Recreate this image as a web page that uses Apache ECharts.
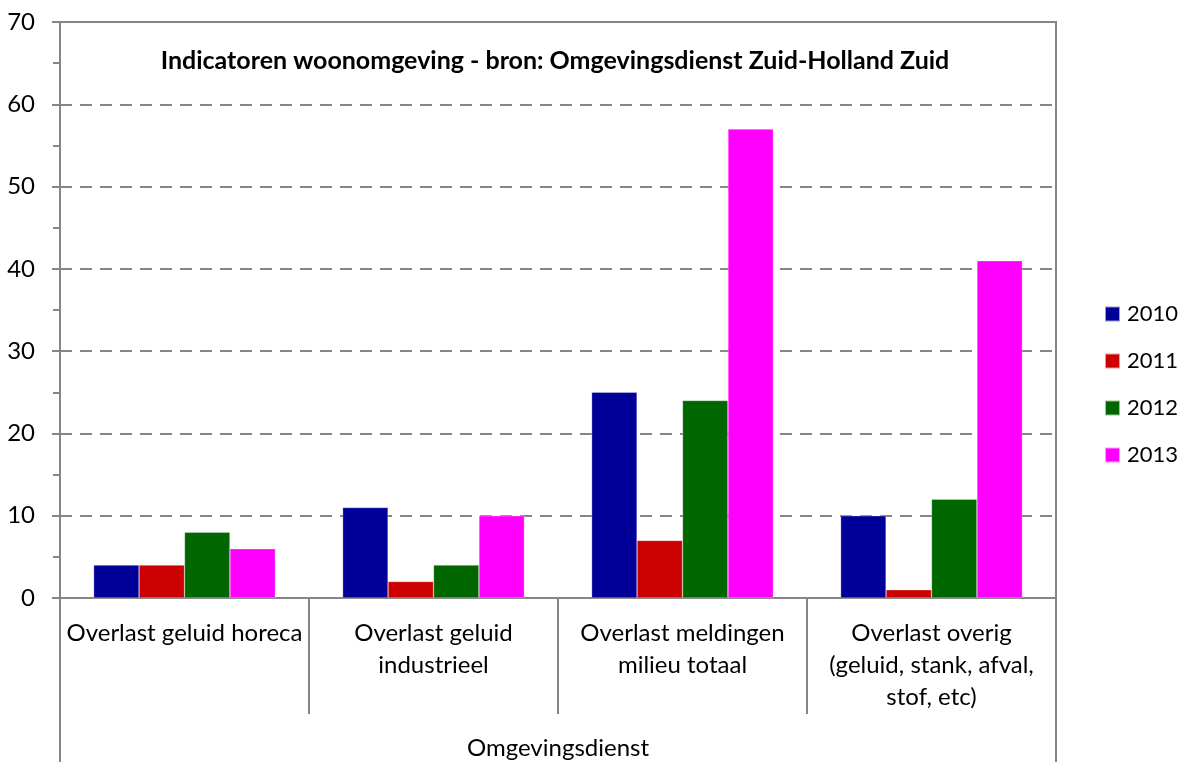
<!DOCTYPE html>
<html>
<head>
<meta charset="utf-8">
<script src="https://cdn.jsdelivr.net/npm/echarts@6/dist/echarts.min.js"></script>
<style>
  html, body { margin: 0; padding: 0; background: #fff; }
  #chart { width: 1178px; height: 762px; }
</style>
</head>
<body>
<div id="chart"></div>
<script>
// data
var categories = [
  'Overlast geluid horeca',
  'Overlast geluid\nindustrieel',
  'Overlast meldingen\nmilieu totaal',
  'Overlast overig\n(geluid, stank, afval,\nstof, etc)'
];
var groupLabel = ['Omgevingsdienst'];
var years = ['2010', '2011', '2012', '2013'];
var v2010 = [4, 11, 25, 10];
var v2011 = [4, 2, 7, 1];
var v2012 = [8, 4, 24, 12];
var v2013 = [6, 10, 57, 41];
var colors = ['#000099', '#CC0000', '#006600', '#FF00FF'];

var font = 'Lato, "Open Sans", sans-serif';
var gray = '#868686';

var myChart = echarts.init(document.getElementById('chart'));

var seriesData = [v2010, v2011, v2012, v2013];
var series = years.map(function (y, i) {
  return {
    name: y,
    type: 'bar',
    data: seriesData[i],
    barGap: '0%',
    barCategoryGap: '27%',
    itemStyle: { color: colors[i], borderColor: 'rgba(255,255,255,0.6)', borderWidth: 0.5 }
  };
});

myChart.setOption({
  animation: false,
  title: {
    text: 'Indicatoren woonomgeving - bron: Omgevingsdienst Zuid-Holland Zuid',
    left: 550,
    textAlign: 'center',
    top: 43,
    textStyle: { fontFamily: font, fontSize: 25, fontWeight: 'bold', color: '#000' }
  },
  legend: {
    orient: 'vertical',
    left: 1099,
    top: 298,
    itemWidth: 15,
    itemHeight: 15,
    itemGap: 25,
    icon: 'rect',
    textStyle: { fontFamily: font, fontSize: 22, color: '#000', padding: [0, 0, 0, 2] },
    data: years
  },
  grid: {
    left: 60, right: 122, top: 22, bottom: 164,
    show: true, borderColor: gray, borderWidth: 2,
    containLabel: false
  },
  xAxis: [
    {
      type: 'category',
      data: categories,
      axisLine: { lineStyle: { color: gray, width: 2 } },
      axisTick: { show: true, length: 116, lineStyle: { color: gray, width: 2 } },
      axisLabel: {
        interval: 0, margin: 19, color: '#000',
        fontFamily: font, fontSize: 24, lineHeight: 32
      }
    },
    {
      type: 'category',
      position: 'bottom',
      data: groupLabel,
      axisLine: { show: false },
      axisTick: { show: true, length: 164, lineStyle: { color: gray, width: 2 } },
      axisLabel: { margin: 138, color: '#000', fontFamily: font, fontSize: 24 }
    }
  ],
  yAxis: {
    type: 'value',
    min: 0, max: 70, interval: 10,
    axisLine: { show: true, lineStyle: { color: gray, width: 2 } },
    axisTick: { show: true, length: 8, lineStyle: { color: gray, width: 2 } },
    minorTick: { show: true, splitNumber: 2, length: 7, lineStyle: { color: gray, width: 2 } },
    splitLine: { show: true, lineStyle: { color: gray, width: 2, type: [12, 8] } },
    axisLabel: { margin: 25, color: '#000', fontFamily: font, fontSize: 24 }
  },
  series: series
});
</script>
</body>
</html>
